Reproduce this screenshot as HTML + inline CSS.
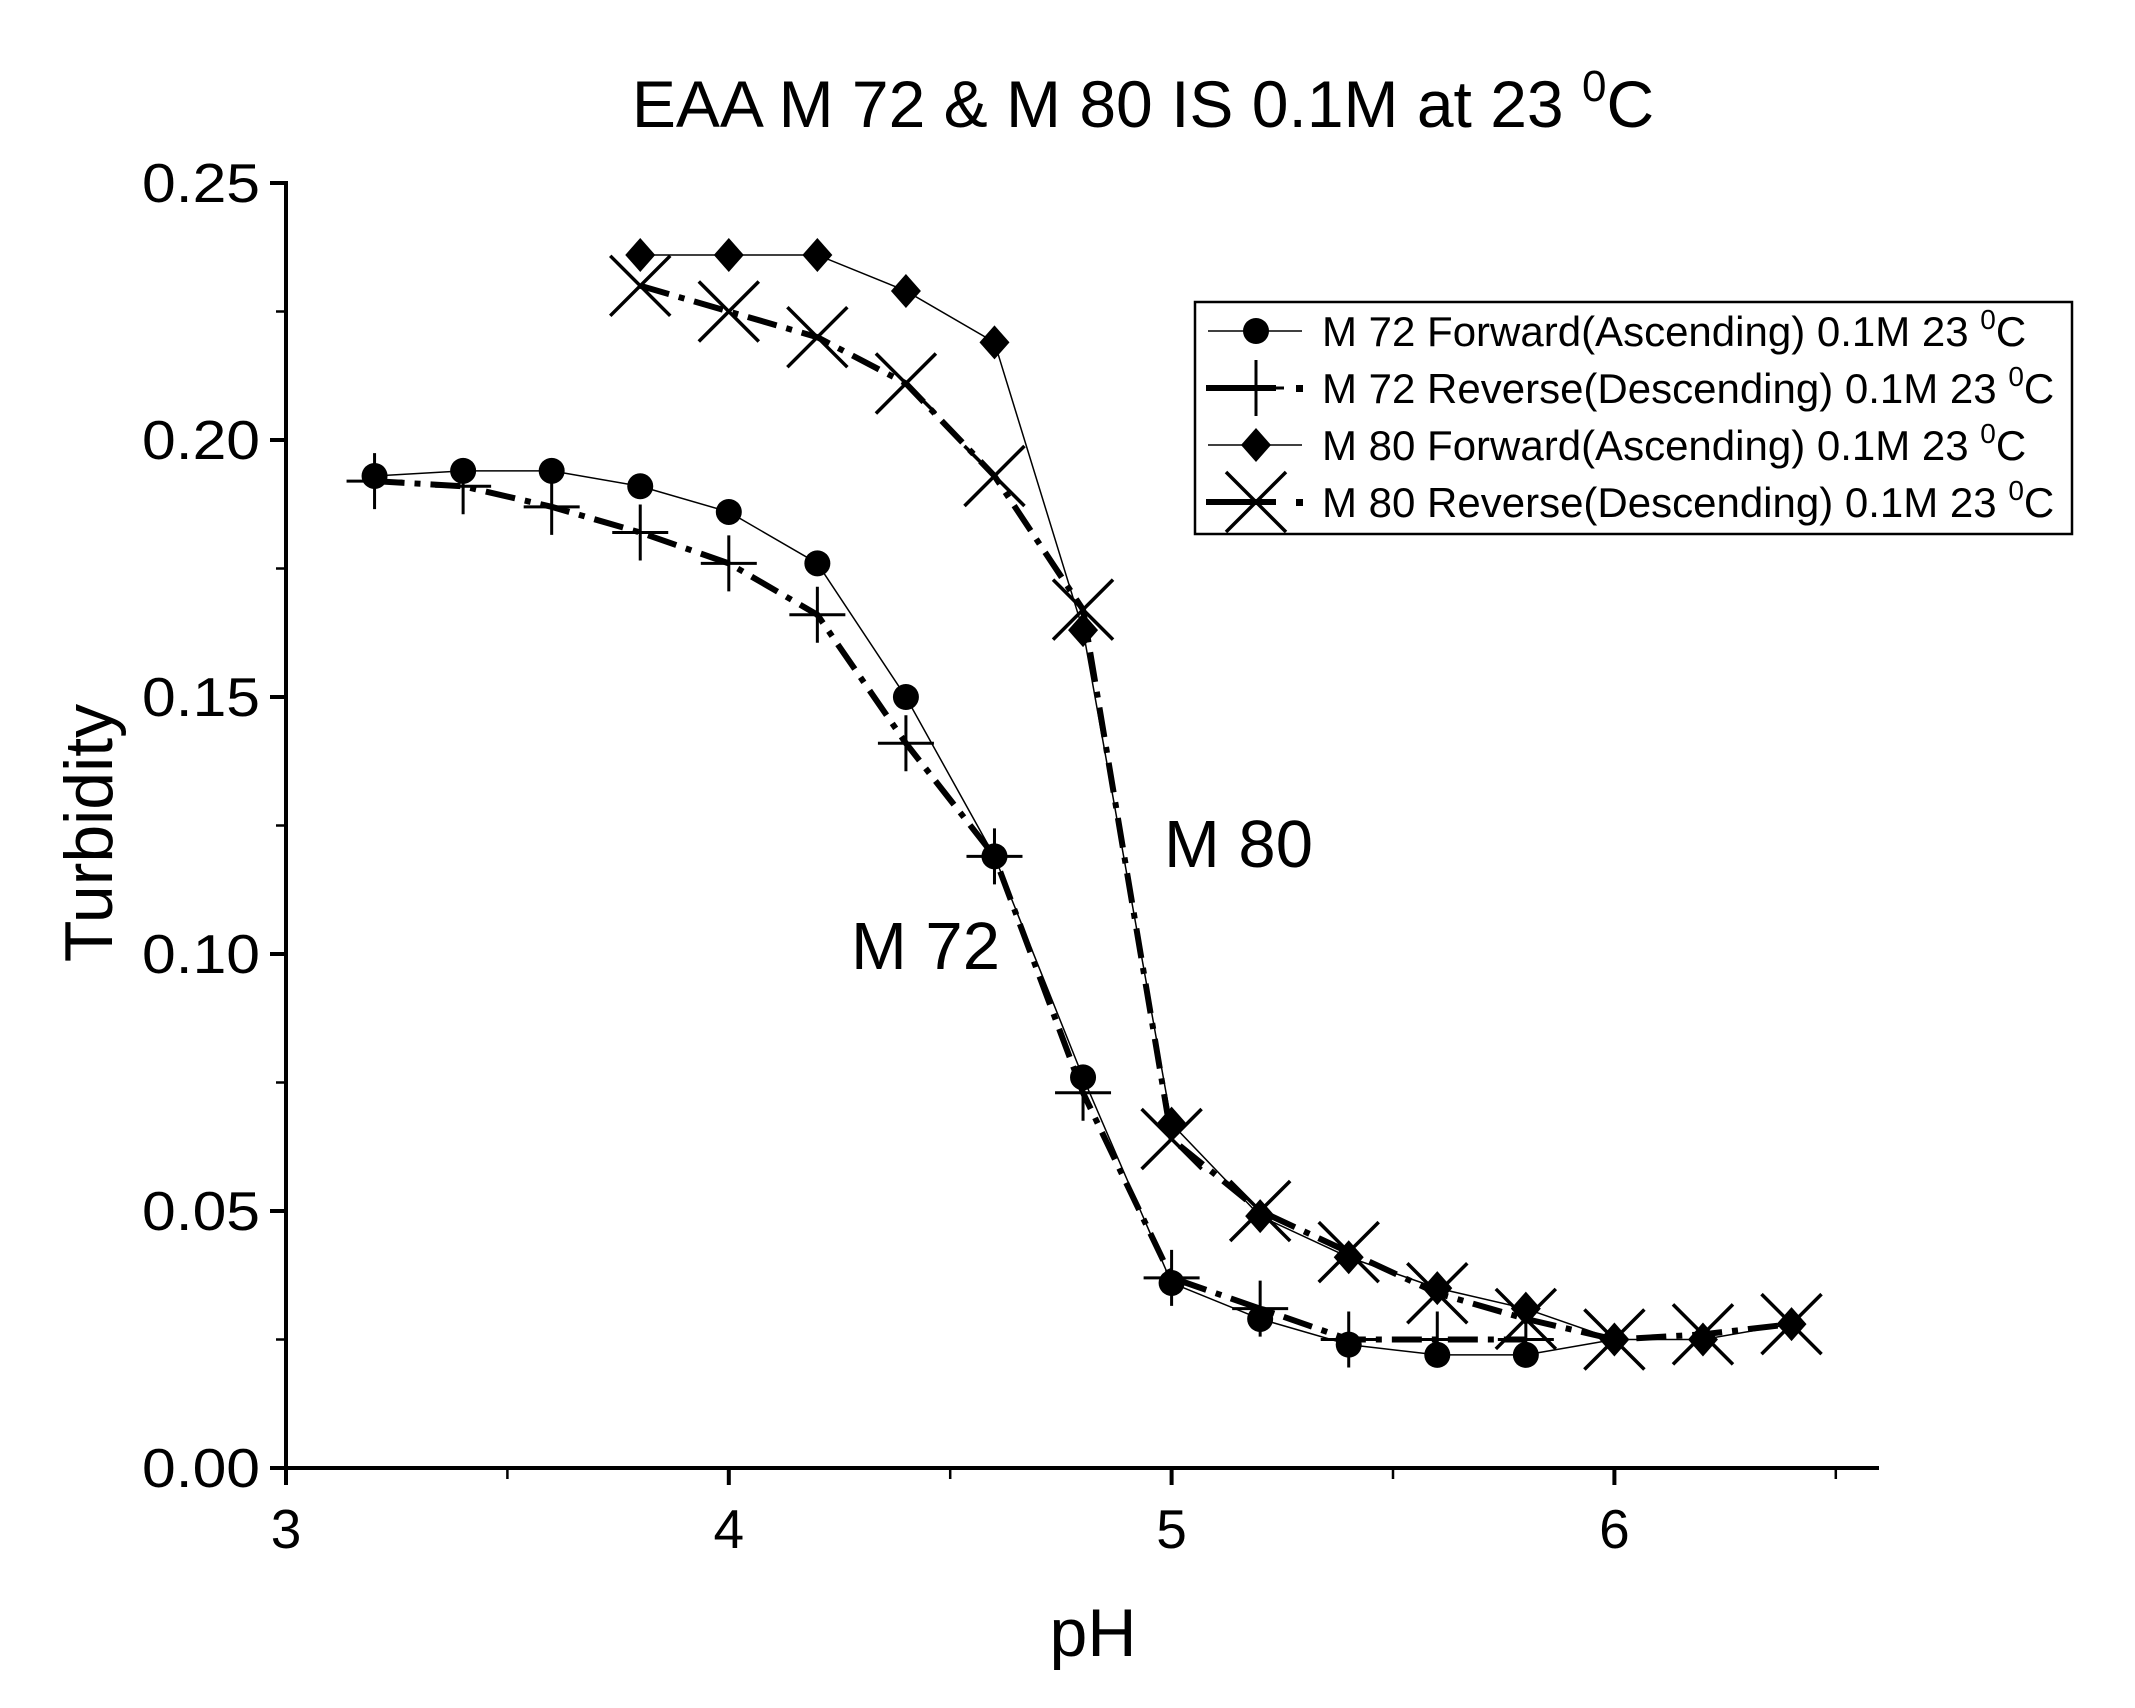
<!DOCTYPE html>
<html><head><meta charset="utf-8"><style>
html,body{margin:0;padding:0;background:#fff}
svg{display:block}
text{font-family:"Liberation Sans",sans-serif;fill:#000}
</style></head><body>
<svg id="s" width="2135" height="1708" viewBox="0 0 2135 1708" xmlns="http://www.w3.org/2000/svg"></svg>
<script>
const s=document.getElementById('s');
const X=v=>286+(v-3)*442.8, Y=v=>1468-v*5140;
let h='';
h+='<text x="1143" y="127" font-size="66" text-anchor="middle">EAA M 72 &amp; M 80 IS 0.1M at 23 <tspan dy="-26" font-size="44">0</tspan><tspan dy="26">C</tspan></text>';
h+='<line x1="286" y1="181" x2="286" y2="1470" stroke="#000" stroke-width="4"/>';
h+='<line x1="284" y1="1468" x2="1879" y2="1468" stroke="#000" stroke-width="4"/>';
for(let i=0;i<=10;i++){const y=Y(i*0.025);const maj=i%2==0;h+=`<line x1="${maj?270:276}" y1="${y}" x2="286" y2="${y}" stroke="#000" stroke-width="${maj?4:2.5}"/>`;
 if(maj)h+=`<text x="260" y="${y+19}" font-size="55" text-anchor="end" textLength="118" lengthAdjust="spacingAndGlyphs">${(i*0.025).toFixed(2)}</text>`;}
for(let i=0;i<=7;i++){const v=3+i*0.5;const x=X(v);const maj=i%2==0;h+=`<line x1="${x}" y1="1468" x2="${x}" y2="${maj?1485:1479}" stroke="#000" stroke-width="${maj?4:2.5}"/>`;
 if(maj)h+=`<text x="${x}" y="1548" font-size="55" text-anchor="middle">${v}</text>`;}
h+='<text x="1093" y="1656" font-size="68" text-anchor="middle">pH</text>';
h+='<text transform="translate(112,833) rotate(-90)" font-size="68" text-anchor="middle">Turbidity</text>';
h+='<text x="1164" y="867" font-size="67">M 80</text><text x="851" y="969" font-size="67">M 72</text>';
const d={
a:[[3.2,.193],[3.4,.194],[3.6,.194],[3.8,.191],[4.0,.186],[4.2,.176],[4.4,.150],[4.6,.119],[4.8,.076],[5.0,.036],[5.2,.029],[5.4,.024],[5.6,.022],[5.8,.022],[6.0,.025]],
b:[[3.2,.192],[3.4,.191],[3.6,.187],[3.8,.182],[4.0,.176],[4.2,.166],[4.4,.141],[4.6,.119],[4.8,.073],[5.0,.037],[5.2,.031],[5.4,.025],[5.6,.025],[5.8,.025]],
c:[[3.8,.236],[4.0,.236],[4.2,.236],[4.4,.229],[4.6,.219],[4.8,.163],[5.0,.067],[5.2,.049],[5.4,.041],[5.6,.035],[5.8,.031],[6.0,.025],[6.2,.025],[6.4,.028]],
e:[[3.8,.230],[4.0,.225],[4.2,.220],[4.4,.211],[4.6,.193],[4.8,.167],[5.0,.064],[5.2,.050],[5.4,.042],[5.6,.034],[5.8,.029],[6.0,.025],[6.2,.026],[6.4,.028]]};
const pl=(a,st)=>`<polyline fill="none" stroke="#000" ${st} points="${a.map(p=>X(p[0])+','+Y(p[1])).join(' ')}"/>`;
h+=pl(d.a,'stroke-width="1.5"');h+=pl(d.c,'stroke-width="1.5"');
h+=pl(d.b,'stroke-width="6" stroke-dasharray="30 10 6 10"');h+=pl(d.e,'stroke-width="6" stroke-dasharray="30 10 6 10"');
const circ=(x,y)=>`<circle cx="${x}" cy="${y}" r="13" fill="#000"/>`;
const plus=(x,y)=>`<path d="M${x-28} ${y}H${x+28}M${x} ${y-28}V${y+28}" stroke="#000" stroke-width="3"/>`;
const dia=(x,y)=>`<path d="M${x} ${y-17}L${x+15} ${y}L${x} ${y+17}L${x-15} ${y}Z" fill="#000"/>`;
const cross=(x,y)=>`<path d="M${x-30} ${y-30}L${x+30} ${y+30}M${x+30} ${y-30}L${x-30} ${y+30}" stroke="#000" stroke-width="3.5"/>`;
d.a.slice(0,14).forEach(p=>h+=circ(X(p[0]),Y(p[1])));
d.b.forEach(p=>h+=plus(X(p[0]),Y(p[1])));
d.c.forEach(p=>h+=dia(X(p[0]),Y(p[1])));
d.e.forEach(p=>h+=cross(X(p[0]),Y(p[1])));
h+='<rect x="1195" y="302" width="877" height="232" fill="#fff" stroke="#000" stroke-width="2.5"/>';
const ly=[331,388,445,502];
const labs=['M 72 Forward(Ascending) 0.1M 23 ','M 72 Reverse(Descending) 0.1M 23 ','M 80 Forward(Ascending) 0.1M 23 ','M 80 Reverse(Descending) 0.1M 23 '];
ly.forEach((y,i)=>{
 if(i%2==0)h+=`<line x1="1208" y1="${y}" x2="1302" y2="${y}" stroke="#000" stroke-width="1.5"/>`;
 else h+=`<line x1="1206" y1="${y}" x2="1276" y2="${y}" stroke="#000" stroke-width="6"/><rect x="1296" y="${y-3}" width="7" height="7" fill="#000"/>`;
 const cx=1256;
 h+=[circ,plus,dia,cross][i](cx,y);
 h+=`<text x="1322" y="${y+15}" font-size="42">${labs[i]}<tspan dy="-17" font-size="28">0</tspan><tspan dy="17">C</tspan></text>`;
});
s.innerHTML=h;
</script>
</body></html>
